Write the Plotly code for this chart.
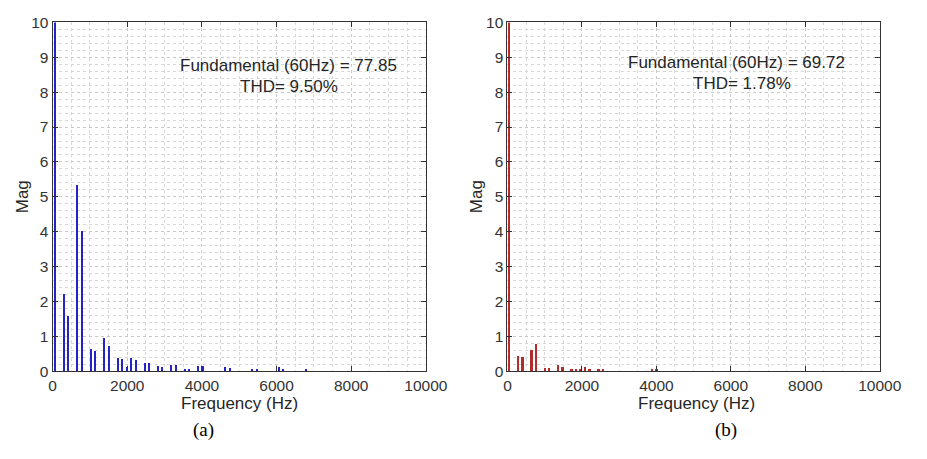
import plotly.graph_objects as go

FUND_HZ = 60
# harmonic orders and magnitudes, panel (a)
orders_a = [1, 5, 7, 11, 13, 17, 19, 23, 25, 29, 31, 33, 35, 37, 41, 43, 47, 49,
            53, 55, 59, 61, 65, 67, 77, 79, 89, 91, 101, 103, 113]
mag_a = [77.85, 2.19, 1.56, 5.31, 4.00, 0.63, 0.56, 0.94, 0.70, 0.35, 0.32, 0.10,
         0.37, 0.31, 0.23, 0.22, 0.14, 0.11, 0.17, 0.15, 0.06, 0.06, 0.13, 0.12,
         0.09, 0.08, 0.06, 0.05, 0.09, 0.05, 0.03]
# panel (b)
orders_b = [1, 5, 7, 11, 13, 17, 19, 23, 25, 29, 31, 33, 35, 37, 41, 43, 65, 67]
mag_b = [69.72, 0.42, 0.40, 0.58, 0.75, 0.07, 0.07, 0.17, 0.11, 0.05, 0.05, 0.06,
         0.09, 0.06, 0.05, 0.05, 0.02, 0.02]

x_ticks = [0, 2000, 4000, 6000, 8000, 10000]
y_ticks = list(range(0, 11))
text_a = ["Fundamental (60Hz) = 77.85", "THD= 9.50%"]
text_b = ["Fundamental (60Hz) = 69.72", "THD= 1.78%"]
captions = ["(a)", "(b)"]

W, H = 927, 459
freq_a = [o * FUND_HZ for o in orders_a]
freq_b = [o * FUND_HZ for o in orders_b]
width_a = [45 if o == 1 else 40 for o in orders_a]
width_b = [60 if o == 1 else 50 for o in orders_b]

fig = go.Figure()
fig.add_trace(go.Bar(x=freq_a, y=mag_a, width=width_a, marker=dict(color="#2323c8", line=dict(width=0)),
                     xaxis="x", yaxis="y", showlegend=False))
fig.add_trace(go.Bar(x=freq_b, y=mag_b, width=width_b, marker=dict(color="#b52a2a", line=dict(width=0)),
                     xaxis="x2", yaxis="y2", showlegend=False))

font = "Liberation Sans, Arial, sans-serif"
def xax(domain, anchor):
    return dict(domain=domain, anchor=anchor, range=[0, 10000], tickvals=x_ticks,
                ticktext=[str(v) for v in x_ticks],
                ticks="inside", ticklen=5, tickcolor="#333333", showline=True, mirror="ticks",
                linecolor="#333333", linewidth=1, showgrid=True, gridcolor="#c8c8c8",
                griddash="dot", gridwidth=1, zeroline=False,
                minor=dict(dtick=500, tick0=0, showgrid=True, gridcolor="#d8d8d8", griddash="dot", ticks=""),
                tickfont=dict(family=font, size=15.5, color="#333333"), fixedrange=True)

def yax(domain, anchor):
    return dict(domain=domain, anchor=anchor, range=[0, 10], tickvals=y_ticks,
                ticks="inside", ticklen=5, tickcolor="#333333", showline=True, mirror="ticks",
                linecolor="#333333", linewidth=1, showgrid=True, gridcolor="#c8c8c8",
                griddash="dot", gridwidth=1, zeroline=False,
                minor=dict(dtick=0.2, tick0=0, showgrid=True, gridcolor="#d8d8d8", griddash="dot", ticks=""),
                tickfont=dict(family=font, size=15.5, color="#333333"), fixedrange=True)

ydom = [1 - 376 / H, 1 - 14 / H]
fig.update_layout(
    width=W, height=H, margin=dict(l=0, r=0, t=0, b=0),
    paper_bgcolor="white", plot_bgcolor="white", bargap=0,
    xaxis=xax([50 / W, 434 / W], "y"),
    yaxis=yax(ydom, "x"),
    xaxis2=xax([518 / W, 901 / W], "y2"),
    yaxis2=yax(ydom, "x2"),
)

def ann(text, px, py, size, fam=font, angle=0, color="#262626"):
    fig.add_annotation(text=text, x=px / W, y=1 - py / H, xref="paper", yref="paper",
                       showarrow=False, xanchor="center", yanchor="middle", textangle=angle,
                       font=dict(family=fam, size=size, color=color))

ann(text_a[0], 293, 59, 17)
ann(text_a[1], 293, 80, 17)
ann(text_b[0], 754, 56, 17)
ann(text_b[1], 759, 77, 17)
ann("Frequency (Hz)", 242, 410, 17)
ann("Frequency (Hz)", 712, 410, 17)
ann("Mag", 19, 195, 17, angle=-90)
ann("Mag", 486, 195, 17, angle=-90)
ann(captions[0], 205, 437, 19, fam="Liberation Serif, Times New Roman, serif", color="#000000")
ann(captions[1], 743, 437, 19, fam="Liberation Serif, Times New Roman, serif", color="#000000")

fig.write_html("out.html",
               post_script="document.body.style.margin='0';document.body.style.overflow='hidden';")
